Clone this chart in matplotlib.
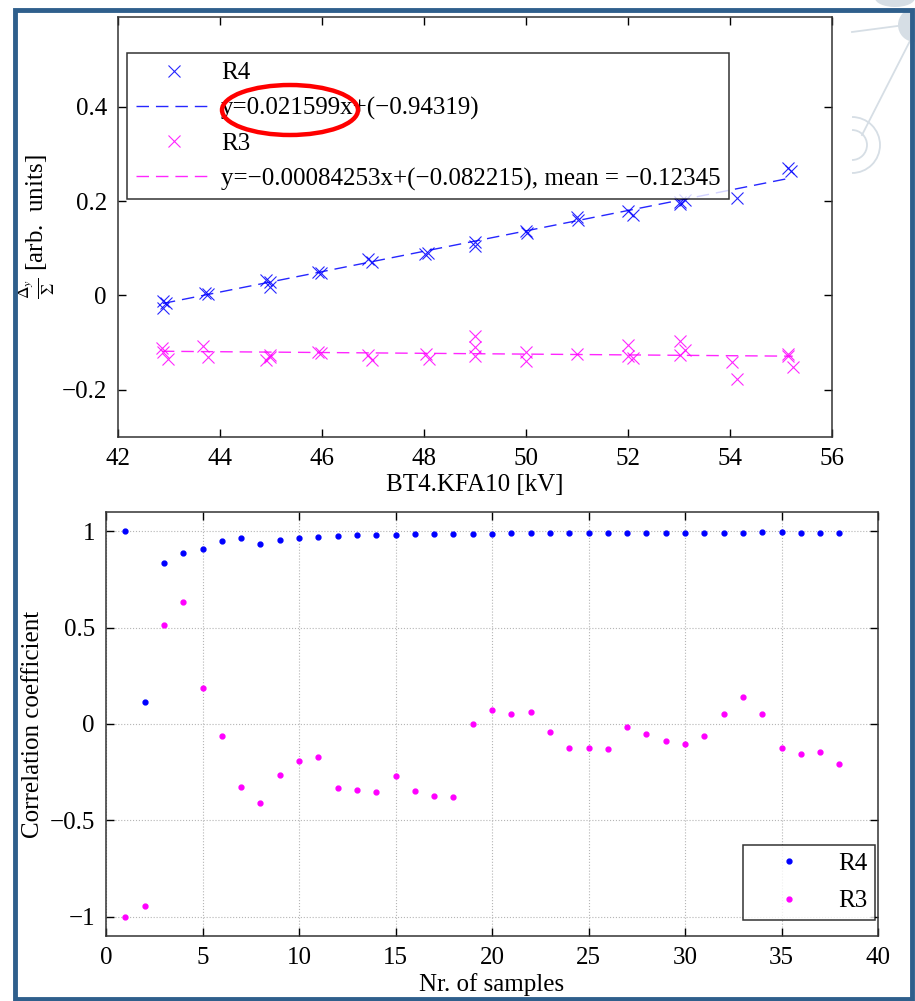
import matplotlib
matplotlib.use('Agg')
import matplotlib.pyplot as plt
from matplotlib.patches import Rectangle, Ellipse, Arc
from matplotlib.lines import Line2D

W, H = 915, 1001

# --- asymmetry vs kicker voltage ---
r4_kv = [42.88, 42.95, 42.88, 43.71, 43.77, 44.90, 44.99, 44.99, 45.93, 45.99,
         46.90, 46.99, 48.02, 48.08, 49.00, 49.00, 50.00, 50.02, 51.00, 51.02,
         52.00, 52.10, 53.02, 53.12, 53.02, 54.13, 55.14, 55.20]
r4_asym = [-0.011, -0.015, -0.027, 0.006, 0.004, 0.033, 0.028, 0.017, 0.050, 0.047,
           0.078, 0.071, 0.087, 0.090, 0.114, 0.104, 0.137, 0.133, 0.167, 0.160,
           0.178, 0.171, 0.199, 0.203, 0.194, 0.206, 0.271, 0.264]

r3_kv = [42.86, 42.89, 42.99, 43.67, 43.77, 44.90, 44.99, 44.99, 45.93, 45.99,
         46.90, 46.99, 48.04, 48.10, 49.00, 49.00, 49.00, 50.00, 50.00, 51.00,
         52.00, 52.00, 52.10, 53.02, 53.12, 53.02, 54.03, 54.13, 55.14, 55.14, 55.23]
r3_asym = [-0.111, -0.119, -0.134, -0.108, -0.131, -0.137, -0.126, -0.131, -0.119, -0.122,
           -0.127, -0.137, -0.124, -0.134, -0.086, -0.110, -0.129, -0.119, -0.140, -0.124,
           -0.104, -0.129, -0.133, -0.096, -0.115, -0.127, -0.142, -0.177, -0.124, -0.129, -0.151]

r4_fit = (0.021599, -0.94319)
r3_fit = (-0.00084253, -0.082215)
r3_mean = -0.12345

# --- correlation coefficient vs number of samples ---
n_samples = list(range(1, 39))
corr_r4 = [1.0, 0.113, 0.836, 0.888, 0.908, 0.952, 0.967, 0.936, 0.957, 0.967,
           0.969, 0.978, 0.979, 0.981, 0.983, 0.984, 0.984, 0.988, 0.988, 0.988,
           0.989, 0.990, 0.990, 0.991, 0.992, 0.991, 0.992, 0.992, 0.992, 0.992,
           0.993, 0.993, 0.993, 0.994, 0.994, 0.993, 0.993, 0.993]
corr_r3 = [-1.0, -0.943, 0.515, 0.631, 0.186, -0.061, -0.329, -0.411, -0.267, -0.192,
           -0.172, -0.334, -0.345, -0.355, -0.270, -0.350, -0.374, -0.381, 0.0, 0.074,
           0.050, 0.062, -0.043, -0.123, -0.125, -0.128, -0.014, -0.050, -0.087, -0.104,
           -0.064, 0.054, 0.142, 0.050, -0.127, -0.154, -0.147, -0.206]

BLUE = (0, 0, 1)
MAGENTA = (1, 0, 1)
FRAME = '#2f5f8c'
DECO = '#d6dee5'
FS = 18

plt.rcParams['font.family'] = ['Liberation Serif', 'DejaVu Serif']
plt.rcParams['mathtext.fontset'] = 'stix'
plt.rcParams['font.size'] = FS


def fx(x):
    return x / W


def fy(y):
    return 1 - y / H


def box(x0, y0, x1, y1):
    return [fx(x0), fy(y1), fx(x1) - fx(x0), fy(y0) - fy(y1)]


def matlab_axes(ax):
    ax.tick_params(direction='in', top=True, right=True, length=6,
                   width=1, labelsize=FS, pad=8)
    for s in ax.spines.values():
        s.set_linewidth(1.1)
        s.set_color('#333333')


fig = plt.figure(figsize=(W / 100, H / 100), dpi=100, facecolor='white')

# slide background graphic, top right
tf = fig.transFigure
fig.add_artist(Line2D([fx(852), fx(905)], [fy(32), fy(25)], transform=tf,
                      color=DECO, lw=1.3, zorder=0))
fig.add_artist(Line2D([fx(912), fx(862)], [fy(37), fy(135)], transform=tf,
                      color=DECO, lw=1.3, zorder=0))
fig.add_artist(Ellipse((fx(915), fy(25)), 34 / W, 34 / H, transform=tf,
                       facecolor=DECO, edgecolor='none', zorder=0))
for r in (15, 28):
    fig.add_artist(Arc((fx(852), fy(145)), 2 * r / W, 2 * r / H, theta1=-90, theta2=90,
                       transform=tf, color=DECO, lw=1.3, zorder=0))
fig.add_artist(Ellipse((fx(895), fy(-2)), 40 / W, 18 / H, transform=tf,
                       facecolor=DECO, edgecolor='none', zorder=0))

# slide frame
fig.add_artist(Rectangle((fx(14.5), fy(998.5)), fx(911.5) - fx(14.5), fy(10) - fy(998.5),
                         transform=tf, fill=False, edgecolor=FRAME, lw=3.5, zorder=5))

# top panel: asymmetry
ax1 = fig.add_axes(box(118, 17, 832, 437))
ax1.plot(r4_kv, r4_asym, 'x', color=BLUE, ms=9, mew=0.8, alpha=0.85, label='R4')
xs = [min(r4_kv), max(r4_kv)]
ax1.plot(xs, [r4_fit[0] * x + r4_fit[1] for x in xs], color=BLUE, lw=1,
         dashes=(9, 5), alpha=0.85,
         label='y=%gx+(\u2212%g)' % (r4_fit[0], -r4_fit[1]))
ax1.plot(r3_kv, r3_asym, 'x', color=MAGENTA, ms=9, mew=0.8, alpha=0.85, label='R3')
xs = [min(r3_kv), max(r3_kv)]
ax1.plot(xs, [r3_fit[0] * x + r3_fit[1] for x in xs], color=MAGENTA, lw=1,
         dashes=(9, 5), alpha=0.85,
         label='y=\u2212%.5gx+(\u2212%g), mean = \u2212%g' % (-r3_fit[0], -r3_fit[1], -r3_mean))
ax1.set_xlim(42, 56)
ax1.set_ylim(-0.3, 0.59)
ax1.set_xticks(range(42, 57, 2))
ax1.set_yticks([-0.2, 0, 0.2, 0.4])
ax1.set_yticklabels(['\u22120.2', '0', '0.2', '0.4'])
ax1.set_xlabel('BT4.KFA10 [kV]', fontsize=FS, labelpad=3)
ax1.set_ylabel(r'$\frac{\Delta_y}{\Sigma}$ [arb.  units]', fontsize=FS, labelpad=3)
matlab_axes(ax1)
leg = ax1.legend(loc='upper left', bbox_to_anchor=(0.0126, 0.914), borderaxespad=0,
                 fontsize=FS, frameon=True, fancybox=False, edgecolor='black',
                 handlelength=3.1, handletextpad=0.3, labelspacing=0.5, borderpad=0.35)
leg.get_frame().set_linewidth(1.1)

# highlight around the R4 slope
fig.add_artist(Ellipse((fx(290), fy(110)), 136 / W, 50 / H, transform=tf,
                       fill=False, edgecolor='red', lw=3.2, zorder=6))

# bottom panel: correlation
ax2 = fig.add_axes(box(106, 512, 878, 936))
ax2.plot(n_samples, corr_r4, '.', color=BLUE, ms=7, label='R4')
ax2.plot(n_samples, corr_r3, '.', color=MAGENTA, ms=7, label='R3')
ax2.set_xlim(0, 40)
ax2.set_ylim(-1.1, 1.1)
ax2.set_xticks(range(0, 41, 5))
ax2.set_yticks([-1, -0.5, 0, 0.5, 1])
ax2.set_yticklabels(['\u22121', '\u22120.5', '0', '0.5', '1'])
ax2.grid(True, linestyle=':', color='#b5b5b5', lw=0.8)
ax2.set_xlabel('Nr. of samples', fontsize=FS, labelpad=3)
ax2.set_ylabel('Correlation coefficient', fontsize=FS, labelpad=4)
matlab_axes(ax2)
leg2 = ax2.legend(loc='lower right', bbox_to_anchor=(0.996, 0.038), borderaxespad=0,
                  fontsize=FS, frameon=True, fancybox=False, edgecolor='black',
                  handlelength=3.1, handletextpad=0.4, labelspacing=0.6,
                  borderpad=0.3)
leg2.get_frame().set_linewidth(1.1)

fig.savefig('out.png', dpi=100, facecolor='white')
